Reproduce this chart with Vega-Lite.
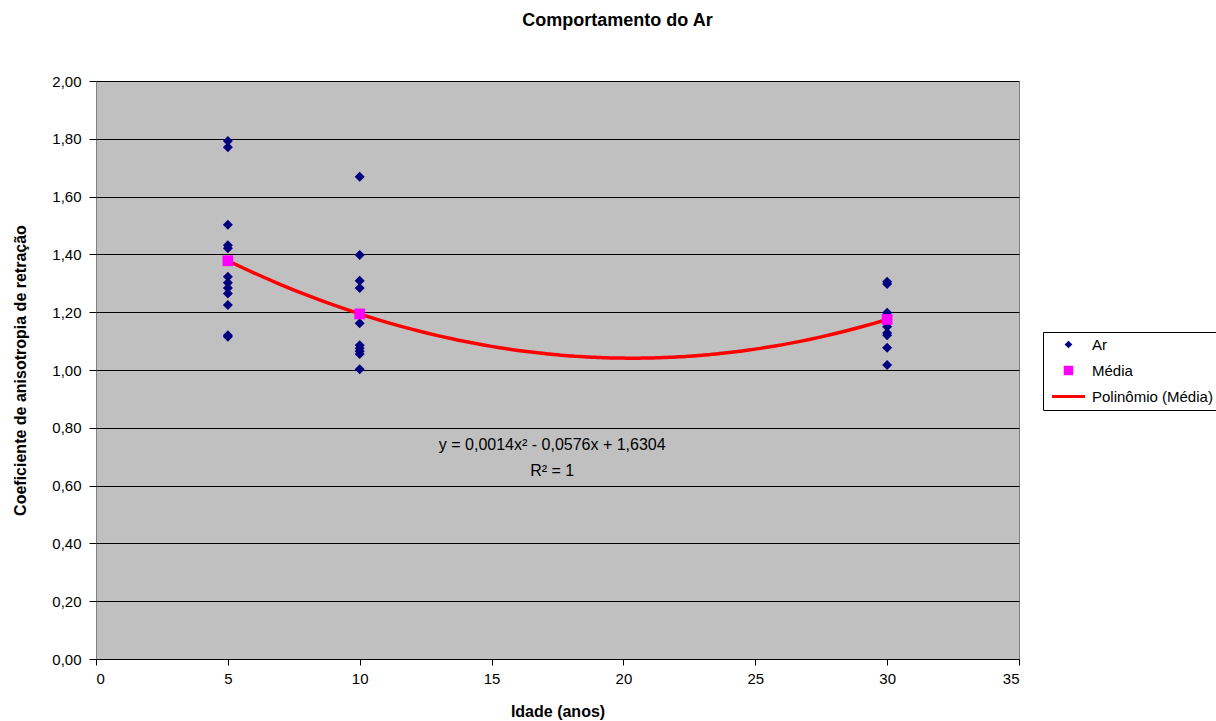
{
  "$schema": "https://vega.github.io/schema/vega-lite/v6.json",
  "autosize": {"type": "none"},
  "padding": {"left": 96, "top": 81, "right": 198, "bottom": 62},
  "width": 923,
  "height": 578,
  "background": "white",
  "config": {
    "font": "Liberation Sans",
    "view": {"fill": "#c0c0c0", "stroke": "#808080", "strokeWidth": 1}
  },
  "title": {"text": "Comportamento do Ar", "fontSize": 18, "fontWeight": "bold", "font": "Liberation Sans", "anchor": "middle", "dx": 60, "offset": 44, "color": "black"},
  "datasets": {
    "ar": [
      {"idade": 5, "valor": 1.792, "serie": "Ar"},
      {"idade": 5, "valor": 1.771, "serie": "Ar"},
      {"idade": 5, "valor": 1.503, "serie": "Ar"},
      {"idade": 5, "valor": 1.432, "serie": "Ar"},
      {"idade": 5, "valor": 1.421, "serie": "Ar"},
      {"idade": 5, "valor": 1.323, "serie": "Ar"},
      {"idade": 5, "valor": 1.302, "serie": "Ar"},
      {"idade": 5, "valor": 1.284, "serie": "Ar"},
      {"idade": 5, "valor": 1.265, "serie": "Ar"},
      {"idade": 5, "valor": 1.225, "serie": "Ar"},
      {"idade": 5, "valor": 1.12, "serie": "Ar"},
      {"idade": 5, "valor": 1.115, "serie": "Ar"},
      {"idade": 10, "valor": 1.669, "serie": "Ar"},
      {"idade": 10, "valor": 1.398, "serie": "Ar"},
      {"idade": 10, "valor": 1.309, "serie": "Ar"},
      {"idade": 10, "valor": 1.284, "serie": "Ar"},
      {"idade": 10, "valor": 1.162, "serie": "Ar"},
      {"idade": 10, "valor": 1.086, "serie": "Ar"},
      {"idade": 10, "valor": 1.075, "serie": "Ar"},
      {"idade": 10, "valor": 1.065, "serie": "Ar"},
      {"idade": 10, "valor": 1.055, "serie": "Ar"},
      {"idade": 10, "valor": 1.003, "serie": "Ar"},
      {"idade": 30, "valor": 1.305, "serie": "Ar"},
      {"idade": 30, "valor": 1.298, "serie": "Ar"},
      {"idade": 30, "valor": 1.198, "serie": "Ar"},
      {"idade": 30, "valor": 1.15, "serie": "Ar"},
      {"idade": 30, "valor": 1.128, "serie": "Ar"},
      {"idade": 30, "valor": 1.12, "serie": "Ar"},
      {"idade": 30, "valor": 1.077, "serie": "Ar"},
      {"idade": 30, "valor": 1.017, "serie": "Ar"}
    ],
    "media": [
      {"idade": 5, "valor": 1.378, "serie": "Média"},
      {"idade": 10, "valor": 1.194, "serie": "Média"},
      {"idade": 30, "valor": 1.175, "serie": "Média"}
    ],
    "poli": [
      {"idade": 5, "valor": 1.378, "serie": "Polinômio (Média)"},
      {"idade": 10, "valor": 1.194, "serie": "Polinômio (Média)"},
      {"idade": 30, "valor": 1.175, "serie": "Polinômio (Média)"}
    ]
  },
  "layer": [
    {
      "data": {"name": "poli"},
      "transform": [{"regression": "valor", "on": "idade", "method": "poly", "order": 2, "extent": [5, 30], "groupby": ["serie"]}],
      "mark": {"type": "line", "strokeWidth": 3.5, "interpolate": "monotone"},
      "encoding": {
        "x": {
          "field": "idade", "type": "quantitative",
          "scale": {"domain": [0, 35], "nice": false, "zero": false},
          "axis": {"title": "Idade (anos)", "values": [0, 5, 10, 15, 20, 25, 30, 35], "grid": false,
            "domain": false, "tickColor": "black", "tickSize": 6, "labelFontSize": 15, "labelColor": "black",
            "labelPadding": 6, "titleFontSize": 16, "titleFontWeight": "bold", "titleColor": "black", "titlePadding": 17}
        },
        "y": {
          "field": "valor", "type": "quantitative",
          "scale": {"domain": [0, 2], "nice": false},
          "axis": {"title": "Coeficiente de anisotropia de retração", "values": [0, 0.2, 0.4, 0.6, 0.8, 1, 1.2, 1.4, 1.6, 1.8, 2],
            "labelExpr": "replace(format(datum.value, '.2f'), '.', ',')",
            "grid": true, "gridColor": "black", "gridWidth": 1, "gridOpacity": 1,
            "domain": false, "tickColor": "black", "tickSize": 7, "labelFontSize": 15, "labelColor": "black",
            "labelPadding": 8, "titleFontSize": 16, "titleFontWeight": "bold", "titleColor": "black", "titlePadding": 23}
        },
        "color": {"field": "serie", "type": "nominal",
          "scale": {"domain": ["Ar", "Média", "Polinômio (Média)"], "range": ["#000080", "#ff00ff", "#ff0000"]},
          "legend": {
            "title": null, "orient": "none", "legendX": 947, "legendY": 251,
            "fillColor": "white", "strokeColor": "black", "padding": 5,
            "labelFontSize": 15, "labelColor": "black", "rowPadding": 10, "symbolSize": 100,
            "symbolOffset": 13, "labelOffset": 16,
            "encode": {
              "symbols": {"update": {
                "strokeWidth": {"signal": "datum.value === 'Polinômio (Média)' ? 3 : 0"},
                "stroke": {"signal": "datum.value === 'Polinômio (Média)' ? '#ff0000' : 'transparent'"},
                "size": {"signal": "datum.value === 'Polinômio (Média)' ? 1089 : (datum.value === 'Média' ? 90 : 60)"},
                "opacity": {"value": 1}
              }}
            }
          }
        },
        "shape": {"field": "serie", "type": "nominal",
          "scale": {"domain": ["Ar", "Média", "Polinômio (Média)"], "range": ["diamond", "square", "stroke"]},
          "legend": null}
      }
    },
    {
      "data": {"name": "ar"},
      "mark": {"type": "point", "filled": true, "size": 100, "opacity": 1},
      "encoding": {
        "x": {"field": "idade", "type": "quantitative"},
        "y": {"field": "valor", "type": "quantitative"},
        "color": {"field": "serie", "type": "nominal"},
        "shape": {"field": "serie", "type": "nominal"}
      }
    },
    {
      "data": {"name": "media"},
      "mark": {"type": "point", "filled": true, "size": 115, "opacity": 1},
      "encoding": {
        "x": {"field": "idade", "type": "quantitative"},
        "y": {"field": "valor", "type": "quantitative"},
        "color": {"field": "serie", "type": "nominal"},
        "shape": {"field": "serie", "type": "nominal"}
      }
    },
    {
      "data": {"values": [{"texto": "y = 0,0014x² - 0,0576x + 1,6304"}]},
      "mark": {"type": "text", "fontSize": 16, "color": "black", "align": "center", "baseline": "middle"},
      "encoding": {
        "x": {"datum": 17.3},
        "y": {"datum": 0.74},
        "text": {"field": "texto"}
      }
    },
    {
      "data": {"values": [{"texto": "R² = 1"}]},
      "mark": {"type": "text", "fontSize": 16, "color": "black", "align": "center", "baseline": "middle"},
      "encoding": {
        "x": {"datum": 17.3},
        "y": {"datum": 0.65},
        "text": {"field": "texto"}
      }
    }
  ]
}
